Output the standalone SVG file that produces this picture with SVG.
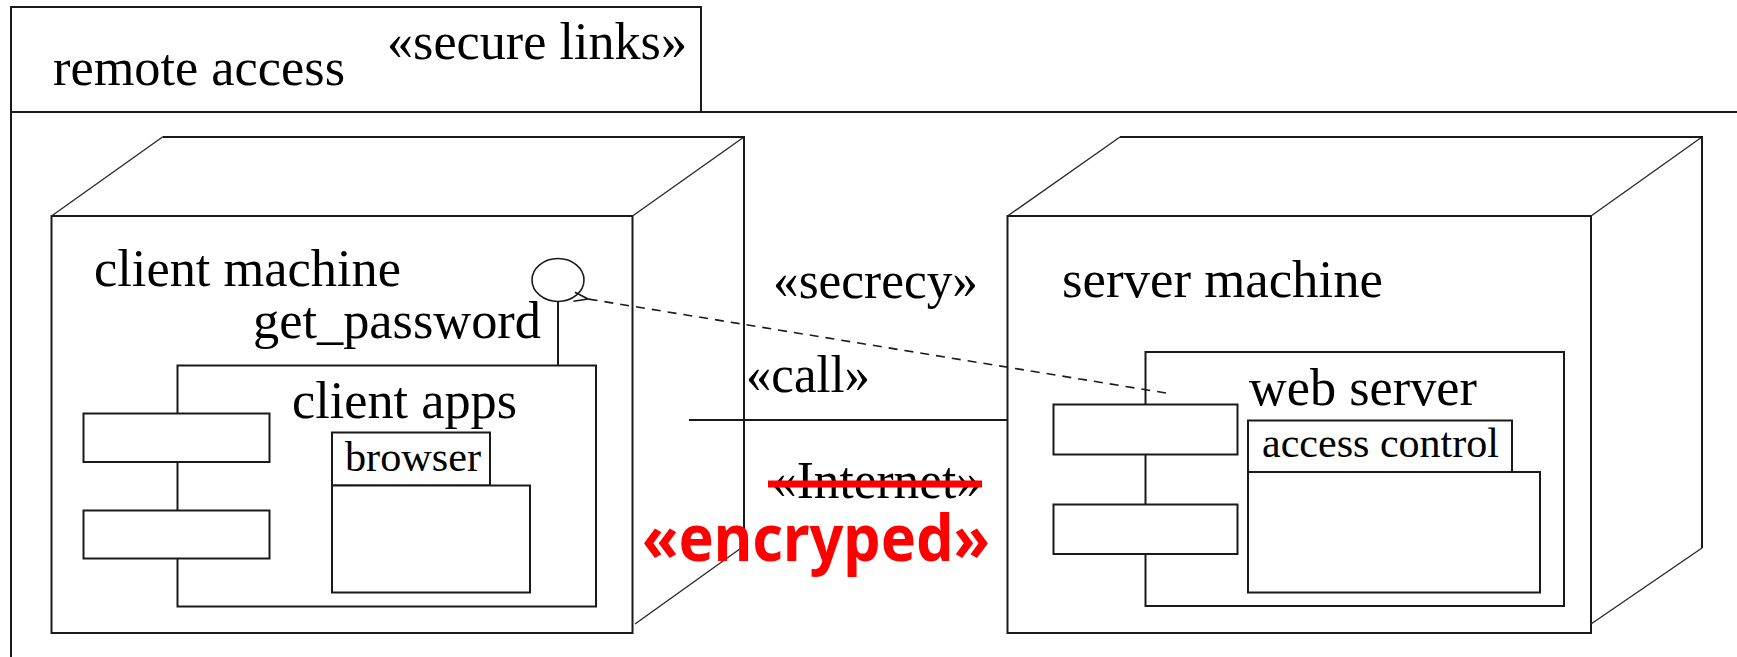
<svg xmlns="http://www.w3.org/2000/svg" width="1737" height="657" viewBox="0 0 1737 657">
  <defs>
    <style>
      .ln{fill:none;stroke:#1a1a1a;stroke-width:2}
      .box{fill:#fff;stroke:#1a1a1a;stroke-width:2}
      .edge{fill:none;stroke:#2a2a2a;stroke-width:1.4}
      .dash{fill:none;stroke:#1a1a1a;stroke-width:1.6;stroke-dasharray:9 7}
      .t{font-family:"Liberation Serif","Times New Roman",serif;font-size:52px;fill:#000}
      .s{font-size:42px}
      .red{font-family:"Noto Sans","Open Sans",sans-serif;font-weight:bold;font-size:65px;fill:#ff0000}
    </style>
    <marker id="open-arrow" viewBox="0 0 16 12" refX="1" refY="6" markerWidth="16" markerHeight="12" markerUnits="userSpaceOnUse" orient="auto">
      <path d="M15,1.5 L1,6 L15,10.5" fill="none" stroke="#1a1a1a" stroke-width="1.6"/>
    </marker>
  </defs>

  <rect width="1737" height="657" fill="#fff"/>

  <!-- package frame with name tab -->
  <g id="remote-access">
    <rect class="ln" x="11" y="7" width="690" height="105"/>
    <path class="ln" d="M11,112 H1737 M11,112 V657"/>
    <text class="t" x="53" y="85" textLength="292" lengthAdjust="spacingAndGlyphs">remote access</text>
    <text class="t" x="387" y="59" textLength="300" lengthAdjust="spacingAndGlyphs">«secure links»</text>
  </g>

  <!-- client node -->
  <g id="client-machine">
    <rect class="box" x="51.5" y="216" width="581" height="417"/>
    <path class="edge" d="M51.5,216 L162.5,137 M632.5,216 L744,137 M635,624 L744,546"/>
    <path class="ln" d="M162.5,137 H744 V546"/>
    <text class="t" x="94" y="286" textLength="307" lengthAdjust="spacingAndGlyphs">client machine</text>

    <g id="get-password">
      <ellipse cx="558" cy="280" rx="26" ry="21.5" fill="#fff" stroke="#1a1a1a" stroke-width="1.6"/>
      <line class="ln" x1="558" y1="301.5" x2="558" y2="366"/>
      <text class="t" x="253" y="338" textLength="288" lengthAdjust="spacingAndGlyphs">get_password</text>
    </g>

    <g id="client-apps">
      <rect class="box" x="177.5" y="365.5" width="418.5" height="241"/>
      <rect class="box" x="83.5" y="413.5" width="186" height="48.5"/>
      <rect class="box" x="83.5" y="510.5" width="186" height="48"/>
      <text class="t" x="292" y="418" textLength="225" lengthAdjust="spacingAndGlyphs">client apps</text>

      <g id="browser">
        <rect class="box" x="332" y="432.5" width="158" height="53"/>
        <rect class="box" x="332" y="485.5" width="198" height="107"/>
        <text class="t s" x="345" y="471" textLength="136" lengthAdjust="spacingAndGlyphs">browser</text>
      </g>
    </g>
  </g>

  <!-- server node -->
  <g id="server-machine">
    <rect class="box" x="1007.5" y="216" width="583.5" height="417"/>
    <path class="edge" d="M1007.5,216 L1120,137 M1591,216 L1702,137 M1591,624 L1702,548"/>
    <path class="ln" d="M1120,137 H1702 V548"/>
    <text class="t" x="1062" y="297" textLength="321" lengthAdjust="spacingAndGlyphs">server machine</text>

    <g id="web-server">
      <rect class="box" x="1145.5" y="352" width="418.5" height="254"/>
      <rect class="box" x="1053.5" y="404.5" width="184" height="50"/>
      <rect class="box" x="1053.5" y="504.5" width="184" height="49.5"/>
      <text class="t" x="1249" y="405" textLength="228" lengthAdjust="spacingAndGlyphs">web server</text>

      <g id="access-control">
        <rect class="box" x="1248" y="420.5" width="264" height="51.5"/>
        <rect class="box" x="1248" y="472" width="292" height="120.5"/>
        <text class="t s" x="1262" y="457" textLength="237" lengthAdjust="spacingAndGlyphs">access control</text>
      </g>
    </g>
  </g>

  <!-- connectors -->
  <g id="connectors">
    <line class="ln" x1="689" y1="420" x2="1008" y2="420"/>
    <path class="dash" d="M1166,393 L588,299" marker-end="url(#open-arrow)"/>
  </g>

  <!-- link and dependency labels -->
  <g id="link-labels">
    <text class="t" x="773" y="298" textLength="205" lengthAdjust="spacingAndGlyphs">«secrecy»</text>
    <text class="t" x="746" y="392" textLength="124" lengthAdjust="spacingAndGlyphs">«call»</text>
    <text class="t" x="771" y="498" textLength="211" lengthAdjust="spacingAndGlyphs">«Internet»</text>
    <line x1="768" y1="484" x2="982" y2="484" stroke="#ff0000" stroke-width="7"/>
    <text class="red" x="642" y="561" textLength="348" lengthAdjust="spacingAndGlyphs">«encryped»</text>
  </g>
</svg>
